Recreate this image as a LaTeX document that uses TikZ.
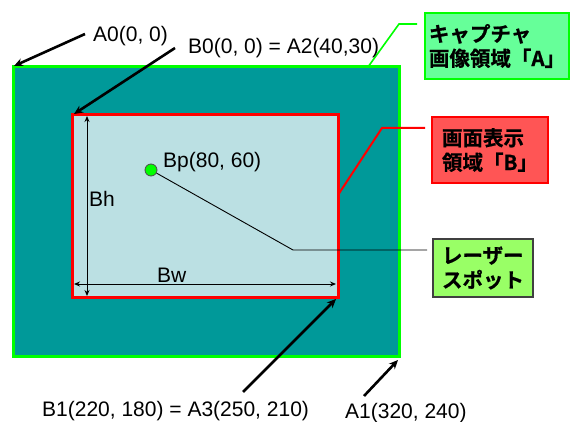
\documentclass[tikz,border=0pt]{standalone}
\usepackage{fontspec}
\setmainfont{Liberation Sans}
\newfontfamily\cjk{Noto Sans CJK JP Bold}[FakeBold=0.8]
\usetikzlibrary{arrows.meta}
\definecolor{teal1}{RGB}{0,153,153}
\definecolor{lblue}{RGB}{187,224,227}
\definecolor{brgreen}{RGB}{0,255,0}
\definecolor{gbox}{RGB}{102,255,153}
\definecolor{rbox}{RGB}{255,85,85}
\definecolor{lbox}{RGB}{153,255,102}
\begin{document}
\begin{tikzpicture}[x=1pt,y=-1pt,
  lbl/.style={anchor=base west,inner sep=0pt,font=\fontsize{21}{24}\selectfont},
  bigarrow/.style={line width=2.6pt,-{Stealth[length=9pt,width=8pt]}},
  dimarrow/.style={line width=0.9pt,{Stealth[length=6pt,width=5pt]}-{Stealth[length=6pt,width=5pt]}},
  jbox/.style={draw,line width=2.4pt,align=left,inner sep=0pt,
     font=\cjk\fontsize{20.5}{24.5}\selectfont}]
\useasboundingbox (0,0) rectangle (570,422);
% outer area A
\node[draw=brgreen,fill=teal1,line width=3pt,minimum width=386pt,minimum height=289pt,inner sep=0pt] (A) at (206,211.5) {};
% inner area B
\node[draw=red,fill=lblue,line width=3pt,minimum width=266pt,minimum height=182pt,inner sep=0pt] (B) at (205,206) {};
% dimension arrows
\coordinate (bh1) at (87,116);
\coordinate (bh2) at (87,296);
\coordinate (bw1) at (74,284);
\coordinate (bw2) at (336,284);
\draw[dimarrow] (bh1) -- (bh2);
\draw[dimarrow] (bw1) -- (bw2);
\node[lbl] (bh) at (89,207) {Bh};
\node[lbl] (bw) at (157,282) {Bw};
% spot
\node[circle,draw=black!70,fill=brgreen,line width=0.8pt,minimum size=12pt,inner sep=0pt] (bp) at (151,170) {};
\node[lbl] (bpl) at (163,168) {Bp(80, 60)};
% boxes
\node[jbox,draw=brgreen,fill=gbox,minimum width=144pt,minimum height=66pt] (gb) at (497,46)
  {キャプチャ\\画像領域「A」};
\node[jbox,draw=red,fill=rbox,minimum width=116pt,minimum height=66pt] (rb) at (490,150)
  {画面表示\\領域「B」};
\node[jbox,draw=black!75,fill=lbox,line width=1.2pt,minimum width=100pt,minimum height=58pt] (lb) at (483,268)
  {レーザー\\スポット};
% leaders
\coordinate (g1) at (417,24);
\coordinate (g2) at (399,24);
\coordinate (g3) at (368,67);
\draw[brgreen,line width=1.6pt] (g1) -- (g2) -- (g3);
\coordinate (r1) at (425,128);
\coordinate (r2) at (382,128);
\coordinate (r3) at (338,195);
\draw[red,line width=2pt] (r1) -- (r2) -- (r3);
\coordinate (l1) at (293,250);
\coordinate (l2) at (427,250);
\draw[black,line width=0.9pt] (bp) -- (l1) -- (l2);
% labels with arrows
\node[lbl] (a0) at (93,42) {A0(0, 0)};
\node[lbl] (b0) at (188,54) {B0(0, 0) = A2(40,30)};
\node[lbl] (b1) at (42,416) {B1(220, 180) = A3(250, 210)};
\node[lbl] (a1) at (345,418) {A1(320, 240)};
\coordinate (a0s) at (85,34);
\coordinate (a0e) at (14,66);
\coordinate (b0s) at (175,48);
\coordinate (b0e) at (74,114);
\coordinate (b1s) at (243,392);
\coordinate (b1e) at (336,299);
\coordinate (a1s) at (364,396);
\coordinate (a1e) at (398,360);
\draw[bigarrow] (a0s) -- (a0e);
\draw[bigarrow] (b0s) -- (b0e);
\draw[bigarrow] (b1s) -- (b1e);
\draw[bigarrow] (a1s) -- (a1e);
\end{tikzpicture}
\end{document}
